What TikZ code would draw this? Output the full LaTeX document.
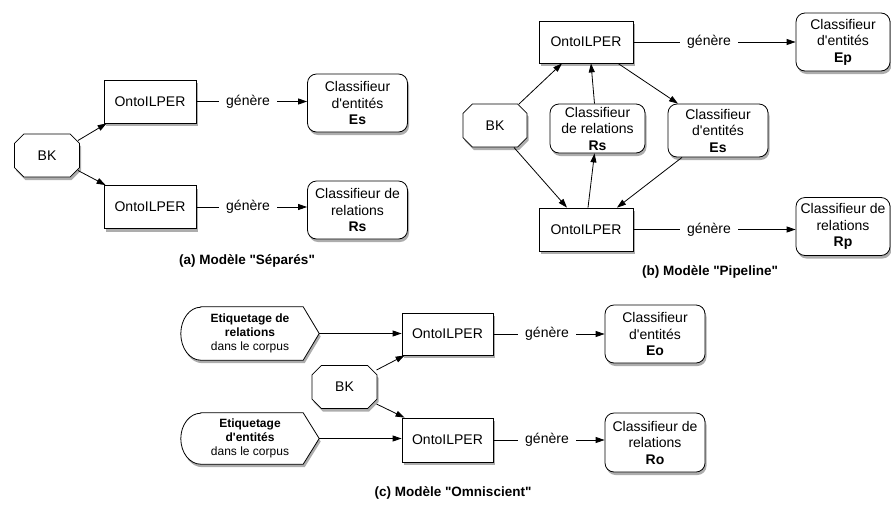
\documentclass[tikz,border=0pt]{standalone}
\usepackage{fontspec}
\setmainfont{Liberation Sans}[Ligatures=TeXOff]
\usetikzlibrary{arrows.meta,shapes.misc,shadows,calc}
\pgfdeclarelayer{background}
\pgfsetlayers{background,main}
\tikzset{
  shad/.style={drop shadow={shadow xshift=1.5pt,shadow yshift=-3pt,opacity=0.4,fill=black!80}},
  txt/.style={font=\fontsize{14}{16.5}\selectfont},
  ontobox/.style={txt,draw,line width=0.8pt,fill=white,shad,minimum width=92pt,minimum height=43pt,inner sep=2pt},
  clsbox/.style={txt,draw,line width=0.8pt,fill=white,shad,rounded corners=9pt,minimum width=100pt,minimum height=58pt,inner sep=1pt,align=center},
  bkbox/.style={txt,chamfered rectangle,chamfered rectangle xsep=7pt,draw,line width=0.8pt,fill=white,shad,minimum width=65pt,minimum height=43pt,inner sep=1pt},
  gen/.style={txt,inner sep=7pt},
  etqnode/.style={font=\fontsize{12}{14}\selectfont,align=center,minimum width=138pt,minimum height=53pt,inner sep=0pt},
  etqshape/.style={draw,line width=0.8pt,fill=white,shad},
  capt/.style={font=\fontsize{13.5}{15}\selectfont\bfseries},
  arr/.style={line width=0.8pt,-{Triangle[length=9pt,width=6pt]}},
  ln/.style={line width=0.8pt}
}
\begin{document}
\begin{tikzpicture}[x=1pt,y=-1pt]
\useasboundingbox (0,0) rectangle (891,504);
% ---------- (a)
\node[bkbox] (bka) at (47,155.5) {BK};
\node[ontobox] (oa1) at (150,101.5) {OntoILPER};
\node[ontobox] (oa2) at (150,207) {OntoILPER};
\node[clsbox] (ca1) at (357.5,103) {Classifieur\\d'entités\\\textbf{Es}};
\node[clsbox] (ca2) at (357.5,210) {Classifieur de\\relations\\\textbf{Rs}};
\node[gen] (ga1) at (248,101.5) {génère};
\node[gen] (ga2) at (248,207) {génère};
\draw[ln] (oa1.east) -- (ga1.west);
\draw[arr] (ga1.east) -- (ga1.east -| ca1.west);
\draw[ln] (oa2.east) -- (ga2.west);
\draw[arr] (ga2.east) -- (ga2.east -| ca2.west);
\draw[arr] ($(bka.center)+(31,-15)$) -- ($(oa1.south west)+(3,0)$);
\draw[arr] ($(bka.center)+(31,15)$) -- ($(oa2.north west)+(2,0)$);
\node[capt] (capa) at (247,261) {(a) Modèle "Séparés"};
% ---------- (b)
\node[bkbox,minimum width=64pt] (bkb) at (495,125.5) {BK};
\node[ontobox,minimum width=94pt,minimum height=42pt] (ob1) at (586,42) {OntoILPER};
\node[ontobox,minimum width=94pt] (ob2) at (586,229.5) {OntoILPER};
\node[clsbox,minimum width=95pt,minimum height=49pt,inner sep=0pt] (cbr) at (597.5,128.5) {Classifieur\\de relations\\\textbf{Rs}};
\node[clsbox,minimum height=53pt] (cbe) at (718,130.5) {Classifieur\\d'entités\\\textbf{Es}};
\node[clsbox,minimum width=94pt] (cbp) at (843,42) {Classifieur\\d'entités\\\textbf{Ep}};
\node[clsbox,minimum width=94pt] (cbq) at (843,226.5) {Classifieur de\\relations\\\textbf{Rp}};
\node[gen] (gb1) at (709,42) {génère};
\node[gen] (gb2) at (709,229.5) {génère};
\draw[ln] (ob1.east) -- (gb1.west);
\draw[arr] (gb1.east) -- (gb1.east -| cbp.west);
\draw[ln] (ob2.east) -- (gb2.west);
\draw[arr] (gb2.east) -- (gb2.east -| cbq.west);
\draw[arr] ($(bkb.center)+(24,-21.5)$) -- ($(ob1.south)+(-24,0)$);
\draw[arr] ($(bkb.center)+(19,22)$) -- ($(ob2.north)+(-19,0)$);
\draw[arr] ($(cbr.north)+(-3,0)$) -- ($(ob1.south)+(5,0)$);
\draw[arr] ($(ob2.north)+(2,0)$) -- ($(cbr.south)+(-3,0)$);
\draw[arr] ($(ob1.south)+(32,0)$) -- ($(cbe.north)+(-40,0)$);
\draw[arr] ($(cbe.south)+(-36,0)$) -- ($(ob2.north)+(31,0)$);
\node[capt] (capb) at (710,272) {(b) Modèle "Pipeline"};
% ---------- (c)
\node[etqnode] (et1) at (250,333.5) {\textbf{Etiquetage de}\\\textbf{relations}\\dans le corpus};
\node[etqnode,minimum height=51pt] (et2) at (250,438.5) {\textbf{Etiquetage}\\\textbf{d'entités}\\dans le corpus};
\begin{pgfonlayer}{background}
\draw[etqshape] ($(et1.north west)+(20,0)$) -- ($(et1.north east)+(-16,0)$) -- (et1.east)
     -- ($(et1.south east)+(-16,0)$) -- ($(et1.south west)+(20,0)$)
     arc[start angle=90,end angle=270,x radius=20,y radius=26.5] -- cycle;
\draw[etqshape] ($(et2.north west)+(20,0)$) -- ($(et2.north east)+(-16,0)$) -- (et2.east)
     -- ($(et2.south east)+(-16,0)$) -- ($(et2.south west)+(20,0)$)
     arc[start angle=90,end angle=270,x radius=20,y radius=25.5] -- cycle;
\end{pgfonlayer}
\node[bkbox] (bkc) at (344.5,387) {BK};
\node[ontobox,minimum width=91pt,minimum height=42pt] (oc1) at (447.5,334) {OntoILPER};
\node[ontobox,minimum width=91pt,minimum height=44pt] (oc2) at (447.5,440) {OntoILPER};
\node[clsbox] (cc1) at (655,334) {Classifieur\\d'entités\\\textbf{Eo}};
\node[clsbox,minimum height=59pt] (cc2) at (655,442.5) {Classifieur de\\relations\\\textbf{Ro}};
\node[gen] (gc1) at (547,334) {génère};
\node[gen] (gc2) at (547,440) {génère};
\draw[ln] (oc1.east) -- (gc1.west);
\draw[arr] (gc1.east) -- (gc1.east -| cc1.west);
\draw[ln] (oc2.east) -- (gc2.west);
\draw[arr] (gc2.east) -- (gc2.east -| cc2.west);
\draw[arr] (et1.east) -- (et1.east -| oc1.west);
\draw[arr] (et2.east) -- (et2.east -| oc2.west);
\draw[arr] ($(bkc.center)+(32,-17)$) -- ($(oc1.south west)+(3,0)$);
\draw[arr] ($(bkc.center)+(32,17)$) -- ($(oc2.north west)+(3,0)$);
\node[capt] (capc) at (453,493) {(c) Modèle "Omniscient"};
\end{tikzpicture}
\end{document}
